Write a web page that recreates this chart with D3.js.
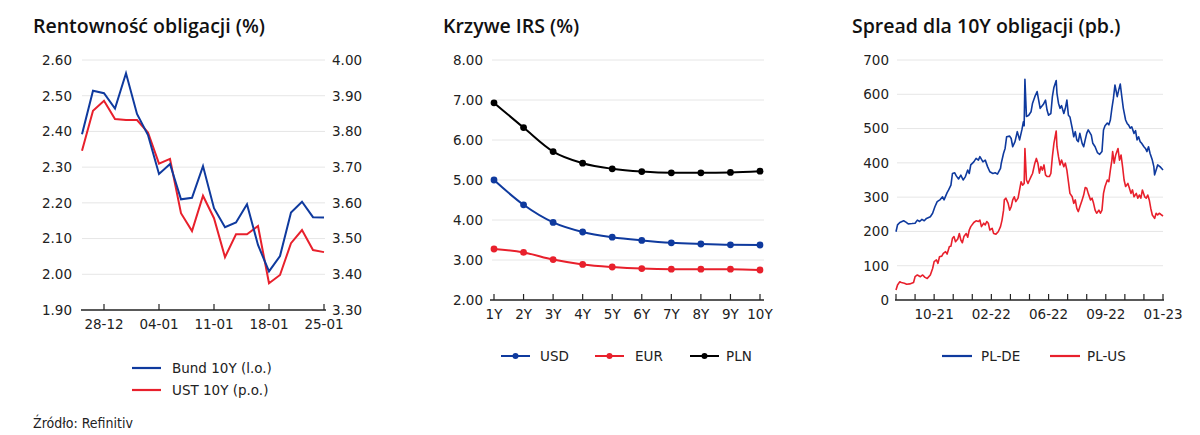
<!DOCTYPE html>
<html><head><meta charset="utf-8">
<script src="https://cdn.jsdelivr.net/npm/d3@7/dist/d3.min.js"></script>
<style>
html,body{margin:0;padding:0;background:#fff;}
svg{display:block;}
.tick-l{font-family:"DejaVu Sans",Verdana,sans-serif;font-size:13.5px;fill:#222;}
.title{font-family:"Open Sans",Lato,sans-serif;font-size:19.5px;font-weight:600;fill:#111;}
</style></head>
<body>
<svg id="c" width="1200" height="435"></svg>
<script>
// ---------- Data ----------
const bondDates = ["26-12","27-12","28-12","29-12","30-12","02-01","03-01","04-01","05-01","06-01","09-01","10-01","11-01","12-01","13-01","16-01","17-01","18-01","19-01","20-01","23-01","24-01","25-01"];
const bondTicks = ["28-12","04-01","11-01","18-01","25-01"];
const bund10Y = [2.392,2.514,2.507,2.464,2.563,2.449,2.39,2.281,2.309,2.21,2.214,2.303,2.185,2.132,2.145,2.196,2.082,2.008,2.051,2.173,2.203,2.16,2.159];
const ust10Y  = [3.746,3.858,3.886,3.835,3.832,3.832,3.797,3.71,3.723,3.571,3.521,3.62,3.557,3.448,3.512,3.512,3.535,3.375,3.398,3.487,3.524,3.468,3.462];
const leftTicks = [1.9,2.0,2.1,2.2,2.3,2.4,2.5,2.6];
const rightTicks = [3.3,3.4,3.5,3.6,3.7,3.8,3.9,4.0];

const tenors = ["1Y","2Y","3Y","4Y","5Y","6Y","7Y","8Y","9Y","10Y"];
const irsUSD = [5.00,4.38,3.94,3.70,3.57,3.49,3.43,3.40,3.38,3.375];
const irsEUR = [3.275,3.19,3.01,2.89,2.825,2.785,2.77,2.77,2.77,2.75];
const irsPLN = [6.93,6.31,5.71,5.42,5.28,5.21,5.18,5.18,5.19,5.22];
const irsTicks = [2,3,4,5,6,7,8];

// spreads: [business-day index, value in bp]
const spreadPLDE = [[0,199],[2,219],[5,226],[10,231],[13,227],[16,222],[21,223],[25,224],[28,233],[31,229],[34,235],[37,231],[40,238],[45,243],[48,253],[51,272],[54,287],[58,293],[61,301],[63,292],[67,313],[69,321],[72,335],[74,369],[77,371],[79,362],[82,353],[85,364],[88,350],[91,360],[94,379],[96,369],[98,394],[102,403],[105,413],[108,408],[110,418],[114,403],[117,408],[120,389],[123,374],[127,369],[130,371],[133,367],[137,384],[138,399],[141,428],[143,442],[145,476],[149,478],[151,471],[153,447],[156,462],[159,491],[162,467],[165,496],[167,520],[168,508],[169,644],[171,535],[174,539],[177,549],[179,574],[182,593],[185,608],[187,583],[189,559],[193,570],[196,583],[198,554],[200,539],[203,544],[205,593],[207,620],[210,640],[211,603],[213,574],[215,559],[217,567],[220,544],[222,559],[224,583],[226,539],[228,534],[231,501],[233,476],[235,491],[237,467],[239,462],[241,486],[244,457],[246,447],[248,467],[250,486],[252,496],[256,481],[258,457],[261,447],[264,430],[267,425],[270,433],[272,496],[274,508],[277,516],[279,511],[281,525],[283,559],[285,588],[287,627],[290,593],[292,613],[294,630],[296,593],[298,559],[301,525],[303,515],[305,510],[307,501],[309,505],[312,486],[314,494],[316,467],[318,476],[320,462],[322,457],[325,447],[327,442],[329,433],[331,447],[333,428],[336,408],[338,389],[339,365],[341,379],[343,394],[346,389],[348,384],[350,379]];
const spreadPLUS = [[0,29],[2,44],[5,53],[7,51],[11,49],[14,46],[18,47],[23,51],[25,68],[28,73],[32,68],[35,73],[38,66],[41,63],[45,73],[48,92],[50,112],[53,117],[55,107],[57,126],[60,128],[62,136],[65,141],[67,134],[70,156],[72,157],[74,180],[76,185],[78,170],[81,178],[83,194],[85,175],[87,167],[89,185],[92,194],[94,183],[96,204],[98,214],[102,226],[105,231],[108,229],[110,233],[112,214],[115,224],[117,219],[119,229],[121,224],[123,204],[126,209],[128,194],[131,192],[134,199],[137,214],[139,233],[141,262],[142,292],[144,297],[147,282],[149,262],[151,272],[153,292],[155,301],[157,287],[160,297],[162,321],[164,345],[166,335],[168,340],[169,442],[171,350],[173,340],[175,350],[177,360],[179,369],[182,399],[184,413],[186,399],[188,370],[190,389],[192,379],[194,394],[196,365],[198,360],[201,360],[203,369],[205,418],[207,457],[210,493],[211,447],[213,418],[215,394],[217,408],[220,389],[222,399],[224,379],[226,345],[228,311],[231,301],[233,282],[235,292],[237,267],[239,258],[241,272],[244,292],[246,306],[248,328],[250,326],[252,311],[255,292],[257,297],[259,282],[261,262],[263,253],[266,262],[268,253],[270,262],[272,311],[274,331],[277,350],[279,345],[281,379],[283,408],[284,433],[286,399],[288,423],[291,442],[293,408],[295,423],[297,389],[299,350],[301,331],[304,340],[306,326],[308,311],[310,321],[312,301],[315,311],[317,297],[319,306],[321,297],[323,321],[326,301],[328,297],[330,306],[332,292],[334,267],[336,248],[339,238],[341,253],[343,248],[345,253],[347,250],[350,245]];
const spreadDays = 350;
const spreadTickLabels = ["","","10-21","","","02-22","","","06-22","","","09-22","","","01-23"];
const spreadYTicks = [0,100,200,300,400,500,600,700];

const titles = ["Rentowność obligacji (%)","Krzywe IRS (%)","Spread dla 10Y obligacji (pb.)"];
const source = "Źródło: Refinitiv";

// ---------- Styles ----------
const BLUE = "#0f3a9e", RED = "#e8202c", BLACK = "#000", GRID = "#e6e6e6", AXIS = "#222";
const svg = d3.select("#c");

function grid(g, ys, x0, x1){
  g.selectAll(null).data(ys).join("line")
    .attr("x1", x0).attr("x2", x1).attr("y1", d=>d).attr("y2", d=>d)
    .attr("stroke", GRID).attr("stroke-width", 1);
}
function bottomAxis(x0, x1, y, ticks, labels, labelDy){
  const g = svg.append("g");
  g.append("line").attr("x1",x0).attr("x2",x1).attr("y1",y).attr("y2",y).attr("stroke",AXIS).attr("stroke-width",1.6);
  g.selectAll(null).data(ticks).join("line")
    .attr("x1",d=>d).attr("x2",d=>d).attr("y1",y).attr("y2",y-6).attr("stroke",AXIS).attr("stroke-width",1.2);
  g.selectAll(null).data(labels.filter(l=>l.t!=="")).join("text")
    .attr("class","tick-l").attr("x",d=>d.x).attr("y",y+labelDy).attr("text-anchor","middle").text(d=>d.t);
}

// ---------- Chart 1 ----------
{
  const x = d3.scalePoint().domain(bondDates).range([82,324]);
  const yL = d3.scaleLinear().domain([1.9,2.6]).range([310,60]);
  const yR = d3.scaleLinear().domain([3.3,4.0]).range([310,60]);
  const g = svg.append("g");
  grid(g, leftTicks.filter(t=>t>1.9).map(yL), 82, 325);
  g.selectAll(null).data(leftTicks).join("text").attr("class","tick-l")
    .attr("x",72).attr("y",d=>yL(d)).attr("dy","0.36em").attr("text-anchor","end").text(d=>d.toFixed(2));
  g.selectAll(null).data(rightTicks).join("text").attr("class","tick-l")
    .attr("x",332).attr("y",d=>yR(d)).attr("dy","0.36em").attr("text-anchor","start").text(d=>d.toFixed(2));
  bottomAxis(81, 326, 310, bondTicks.map(x), bondTicks.map(t=>({x:x(t),t})), 19);
  const lineL = d3.line().x((d,i)=>x(bondDates[i])).y(d=>yL(d));
  const lineR = d3.line().x((d,i)=>x(bondDates[i])).y(d=>yR(d));
  g.append("path").attr("d",lineR(ust10Y)).attr("fill","none").attr("stroke",RED).attr("stroke-width",2);
  g.append("path").attr("d",lineL(bund10Y)).attr("fill","none").attr("stroke",BLUE).attr("stroke-width",2);
  svg.append("text").attr("class","title").attr("x",33).attr("y",33).text(titles[0]);
  const leg = [{n:"Bund 10Y (l.o.)",c:BLUE,y:368},{n:"UST 10Y (p.o.)",c:RED,y:390}];
  leg.forEach(l=>{
    svg.append("line").attr("x1",132).attr("x2",161).attr("y1",l.y).attr("y2",l.y).attr("stroke",l.c).attr("stroke-width",2.2);
    svg.append("text").attr("class","tick-l").attr("x",172).attr("y",l.y).attr("dy","0.36em").text(l.n);
  });
}

// ---------- Chart 2 ----------
{
  const x = d3.scalePoint().domain(tenors).range([494,760]);
  const y = d3.scaleLinear().domain([2,8]).range([300,60]);
  const g = svg.append("g");
  grid(g, irsTicks.filter(t=>t>2).map(y), 492, 764);
  g.selectAll(null).data(irsTicks).join("text").attr("class","tick-l")
    .attr("x",483).attr("y",d=>y(d)).attr("dy","0.36em").attr("text-anchor","end").text(d=>d.toFixed(2));
  bottomAxis(490, 764, 300, tenors.map(x), tenors.map(t=>({x:x(t),t})), 19);
  const line = d3.line().x((d,i)=>x(tenors[i])).y(d=>y(d)).curve(d3.curveMonotoneX);
  [[irsEUR,RED],[irsUSD,BLUE],[irsPLN,BLACK]].forEach(([s,c])=>{
    g.append("path").attr("d",line(s)).attr("fill","none").attr("stroke",c).attr("stroke-width",2);
    g.selectAll(null).data(s).join("circle").attr("cx",(d,i)=>x(tenors[i])).attr("cy",d=>y(d)).attr("r",3.4).attr("fill",c);
  });
  svg.append("text").attr("class","title").attr("x",443).attr("y",33).text(titles[1]);
  const leg = [{n:"USD",c:BLUE,x0:501,tx:540},{n:"EUR",c:RED,x0:595,tx:635},{n:"PLN",c:BLACK,x0:690,tx:726}];
  leg.forEach(l=>{
    svg.append("line").attr("x1",l.x0).attr("x2",l.x0+29).attr("y1",356).attr("y2",356).attr("stroke",l.c).attr("stroke-width",2);
    svg.append("circle").attr("cx",l.x0+14.5).attr("cy",356).attr("r",3).attr("fill",l.c);
    svg.append("text").attr("class","tick-l").attr("x",l.tx).attr("y",356).attr("dy","0.36em").text(l.n);
  });
}

// ---------- Chart 3 ----------
{
  const x = d3.scaleLinear().domain([0,spreadDays]).range([896,1163]);
  const y = d3.scaleLinear().domain([0,700]).range([300,60]);
  const g = svg.append("g");
  grid(g, spreadYTicks.filter(t=>t>0).map(y), 897, 1163);
  g.selectAll(null).data(spreadYTicks).join("text").attr("class","tick-l")
    .attr("x",889).attr("y",d=>y(d)).attr("dy","0.36em").attr("text-anchor","end").text(d=>d);
  const tickX = spreadTickLabels.map((t,i)=>x(i*spreadDays/(spreadTickLabels.length-1)));
  bottomAxis(895, 1164, 300, tickX, spreadTickLabels.map((t,i)=>({x:tickX[i],t})), 19);
  const line = d3.line().x(d=>x(d[0])).y(d=>y(d[1]));
  g.append("path").attr("d",line(spreadPLUS)).attr("fill","none").attr("stroke",RED).attr("stroke-width",1.6).attr("stroke-linejoin","round");
  g.append("path").attr("d",line(spreadPLDE)).attr("fill","none").attr("stroke",BLUE).attr("stroke-width",1.6).attr("stroke-linejoin","round");
  svg.append("text").attr("class","title").attr("x",852).attr("y",33).text(titles[2]);
  const leg = [{n:"PL-DE",c:BLUE,x0:942,tx:981},{n:"PL-US",c:RED,x0:1050,tx:1087}];
  leg.forEach(l=>{
    svg.append("line").attr("x1",l.x0).attr("x2",l.x0+30).attr("y1",356).attr("y2",356).attr("stroke",l.c).attr("stroke-width",2.2);
    svg.append("text").attr("class","tick-l").attr("x",l.tx).attr("y",356).attr("dy","0.36em").text(l.n);
  });
}

svg.append("text").attr("x",33).attr("y",428)
  .style("font-family",'"Liberation Sans Narrow","DejaVu Sans Condensed",sans-serif').style("font-size","14px").style("fill","#222")
  .text(source);
</script>
</body></html>
